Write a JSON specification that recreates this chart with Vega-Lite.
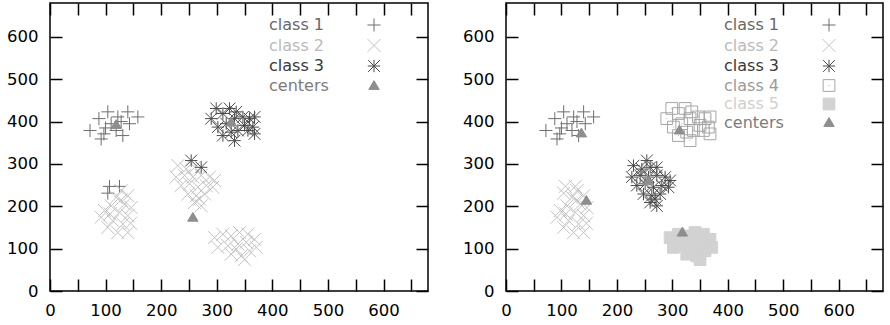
{
  "$schema": "https://vega.github.io/schema/vega-lite/v6.json",
  "padding": {"left": 5, "top": 1, "right": 5, "bottom": 5},
  "background": "white",
  "spacing": 31,
  "config": {
    "view": {"stroke": "black", "strokeWidth": 1.5},
    "axis": {
      "grid": false, "title": null, "domain": false, "offset": -12, "zindex": 1,
      "ticks": true, "tickColor": "black", "tickWidth": 1.5, "tickSize": 12,
      "labelFont": "DejaVu Sans", "labelFontSize": 16.5, "labelColor": "black",
      "labelFlush": false, "values": [0, 100, 200, 300, 400, 500, 600]
    },
    "legend": {
      "title": null, "orient": "none", "legendY": 14, "padding": 0,
      "rowPadding": 2.5, "labelFont": "DejaVu Sans", "labelFontSize": 16,
      "symbolSize": 170, "symbolStrokeWidth": 1,
      "symbolOffset": 100, "labelOffset": -113,
      "labelColor": {"expr": "datum.value === 'class 1' ? '#686868' : datum.value === 'class 2' ? '#bababa' : datum.value === 'class 3' ? '#383838' : datum.value === 'class 4' ? '#9a9a9a' : datum.value === 'class 5' ? '#d0d0d0' : '#7c7c7c'"}
    }
  },
  "datasets": {
    "pts": [
      {"x": 72, "y": 379, "k3": "class 1", "k5": "class 1"},
      {"x": 88, "y": 407, "k3": "class 1", "k5": "class 1"},
      {"x": 104, "y": 423, "k3": "class 1", "k5": "class 1"},
      {"x": 122, "y": 411, "k3": "class 1", "k5": "class 1"},
      {"x": 140, "y": 423, "k3": "class 1", "k5": "class 1"},
      {"x": 158, "y": 411, "k3": "class 1", "k5": "class 1"},
      {"x": 119, "y": 379, "k3": "class 1", "k5": "class 1"},
      {"x": 131, "y": 367, "k3": "class 1", "k5": "class 1"},
      {"x": 92, "y": 359, "k3": "class 1", "k5": "class 1"},
      {"x": 97, "y": 371, "k3": "class 1", "k5": "class 1"},
      {"x": 143, "y": 395, "k3": "class 1", "k5": "class 1"},
      {"x": 110, "y": 395, "k3": "class 1", "k5": "class 1"},
      {"x": 128, "y": 400, "k3": "class 1", "k5": "class 1"},
      {"x": 100, "y": 385, "k3": "class 1", "k5": "class 1"},
      {"x": 107, "y": 247, "k3": "class 1", "k5": "class 2"},
      {"x": 125, "y": 247, "k3": "class 1", "k5": "class 2"},
      {"x": 104, "y": 231, "k3": "class 1", "k5": "class 2"},
      {"x": 128, "y": 237, "k3": "class 2", "k5": "class 2"},
      {"x": 140, "y": 225, "k3": "class 2", "k5": "class 2"},
      {"x": 119, "y": 221, "k3": "class 2", "k5": "class 2"},
      {"x": 134, "y": 205, "k3": "class 2", "k5": "class 2"},
      {"x": 110, "y": 201, "k3": "class 2", "k5": "class 2"},
      {"x": 146, "y": 197, "k3": "class 2", "k5": "class 2"},
      {"x": 98, "y": 190, "k3": "class 2", "k5": "class 2"},
      {"x": 125, "y": 186, "k3": "class 2", "k5": "class 2"},
      {"x": 140, "y": 178, "k3": "class 2", "k5": "class 2"},
      {"x": 92, "y": 174, "k3": "class 2", "k5": "class 2"},
      {"x": 113, "y": 166, "k3": "class 2", "k5": "class 2"},
      {"x": 131, "y": 158, "k3": "class 2", "k5": "class 2"},
      {"x": 104, "y": 150, "k3": "class 2", "k5": "class 2"},
      {"x": 122, "y": 138, "k3": "class 2", "k5": "class 2"},
      {"x": 140, "y": 138, "k3": "class 2", "k5": "class 2"},
      {"x": 108, "y": 182, "k3": "class 2", "k5": "class 2"},
      {"x": 128, "y": 215, "k3": "class 2", "k5": "class 2"},
      {"x": 145, "y": 160, "k3": "class 2", "k5": "class 2"},
      {"x": 230, "y": 296, "k3": "class 2", "k5": "class 3"},
      {"x": 245, "y": 288, "k3": "class 2", "k5": "class 3"},
      {"x": 260, "y": 292, "k3": "class 2", "k5": "class 3"},
      {"x": 227, "y": 269, "k3": "class 2", "k5": "class 3"},
      {"x": 242, "y": 273, "k3": "class 2", "k5": "class 3"},
      {"x": 257, "y": 269, "k3": "class 2", "k5": "class 3"},
      {"x": 272, "y": 273, "k3": "class 2", "k5": "class 3"},
      {"x": 287, "y": 269, "k3": "class 2", "k5": "class 3"},
      {"x": 296, "y": 261, "k3": "class 2", "k5": "class 3"},
      {"x": 236, "y": 249, "k3": "class 2", "k5": "class 3"},
      {"x": 251, "y": 253, "k3": "class 2", "k5": "class 3"},
      {"x": 266, "y": 245, "k3": "class 2", "k5": "class 3"},
      {"x": 281, "y": 249, "k3": "class 2", "k5": "class 3"},
      {"x": 293, "y": 245, "k3": "class 2", "k5": "class 3"},
      {"x": 248, "y": 229, "k3": "class 2", "k5": "class 3"},
      {"x": 263, "y": 225, "k3": "class 2", "k5": "class 3"},
      {"x": 278, "y": 229, "k3": "class 2", "k5": "class 3"},
      {"x": 260, "y": 209, "k3": "class 2", "k5": "class 3"},
      {"x": 272, "y": 201, "k3": "class 2", "k5": "class 3"},
      {"x": 269, "y": 217, "k3": "class 2", "k5": "class 3"},
      {"x": 296, "y": 126, "k3": "class 2", "k5": "class 5"},
      {"x": 311, "y": 134, "k3": "class 2", "k5": "class 5"},
      {"x": 326, "y": 130, "k3": "class 2", "k5": "class 5"},
      {"x": 341, "y": 138, "k3": "class 2", "k5": "class 5"},
      {"x": 356, "y": 134, "k3": "class 2", "k5": "class 5"},
      {"x": 368, "y": 122, "k3": "class 2", "k5": "class 5"},
      {"x": 302, "y": 103, "k3": "class 2", "k5": "class 5"},
      {"x": 320, "y": 107, "k3": "class 2", "k5": "class 5"},
      {"x": 338, "y": 111, "k3": "class 2", "k5": "class 5"},
      {"x": 353, "y": 115, "k3": "class 2", "k5": "class 5"},
      {"x": 371, "y": 103, "k3": "class 2", "k5": "class 5"},
      {"x": 326, "y": 87, "k3": "class 2", "k5": "class 5"},
      {"x": 344, "y": 83, "k3": "class 2", "k5": "class 5"},
      {"x": 359, "y": 95, "k3": "class 2", "k5": "class 5"},
      {"x": 335, "y": 99, "k3": "class 2", "k5": "class 5"},
      {"x": 350, "y": 74, "k3": "class 2", "k5": "class 5"},
      {"x": 254, "y": 308, "k3": "class 3", "k5": "class 3"},
      {"x": 272, "y": 292, "k3": "class 3", "k5": "class 3"},
      {"x": 290, "y": 407, "k3": "class 3", "k5": "class 4"},
      {"x": 299, "y": 431, "k3": "class 3", "k5": "class 4"},
      {"x": 311, "y": 419, "k3": "class 3", "k5": "class 4"},
      {"x": 323, "y": 431, "k3": "class 3", "k5": "class 4"},
      {"x": 335, "y": 423, "k3": "class 3", "k5": "class 4"},
      {"x": 332, "y": 407, "k3": "class 3", "k5": "class 4"},
      {"x": 347, "y": 411, "k3": "class 3", "k5": "class 4"},
      {"x": 359, "y": 407, "k3": "class 3", "k5": "class 4"},
      {"x": 368, "y": 411, "k3": "class 3", "k5": "class 4"},
      {"x": 350, "y": 391, "k3": "class 3", "k5": "class 4"},
      {"x": 365, "y": 387, "k3": "class 3", "k5": "class 4"},
      {"x": 338, "y": 379, "k3": "class 3", "k5": "class 4"},
      {"x": 326, "y": 375, "k3": "class 3", "k5": "class 4"},
      {"x": 311, "y": 367, "k3": "class 3", "k5": "class 4"},
      {"x": 332, "y": 355, "k3": "class 3", "k5": "class 4"},
      {"x": 368, "y": 371, "k3": "class 3", "k5": "class 4"},
      {"x": 356, "y": 379, "k3": "class 3", "k5": "class 4"},
      {"x": 317, "y": 395, "k3": "class 3", "k5": "class 4"},
      {"x": 302, "y": 387, "k3": "class 3", "k5": "class 4"},
      {"x": 119, "y": 393, "k3": "centers"},
      {"x": 326, "y": 399, "k3": "centers"},
      {"x": 257, "y": 174, "k3": "centers"},
      {"x": 136, "y": 373, "k5": "centers"},
      {"x": 145, "y": 214, "k5": "centers"},
      {"x": 257, "y": 260, "k5": "centers"},
      {"x": 313, "y": 380, "k5": "centers"},
      {"x": 318, "y": 139, "k5": "centers"}
    ]
  },
  "resolve": {"scale": {"shape": "independent", "stroke": "independent", "fill": "independent"}},
  "hconcat": [
    {
      "width": 378, "height": 288,
      "data": {"name": "pts"},
      "transform": [{"filter": "datum.k3 != null"}],
      "layer": [
        {
          "mark": {"type": "point", "size": 170, "strokeWidth": 1, "opacity": 1},
          "encoding": {
            "x": {"field": "x", "type": "quantitative", "scale": {"domain": [0, 680], "nice": false, "zero": false}, "axis": {"orient": "bottom", "labelPadding": 11}},
            "y": {"field": "y", "type": "quantitative", "scale": {"domain": [0, 680], "nice": false, "zero": false}, "axis": {"orient": "left", "labelPadding": 12}},
            "shape": {"field": "k3", "type": "nominal", "scale": {"domain": ["class 1", "class 2", "class 3", "centers"], "range": ["M-1,0L1,0M0,-1L0,1", "M-1,-1L1,1M-1,1L1,-1", "M-0.95,0L0.95,0M0,-0.95L0,0.95M-0.9,-0.9L0.9,0.9M-0.9,0.9L0.9,-0.9", "M0,-0.75L0.8,0.6L-0.8,0.6Z"]}, "legend": {"legendX": 216}},
            "stroke": {"field": "k3", "type": "nominal", "scale": {"domain": ["class 1", "class 2", "class 3", "centers"], "range": ["#6e6e6e", "#c2c2c2", "#4c4c4c", "#8e8e8e"]}, "legend": {"legendX": 216}},
            "fill": {"field": "k3", "type": "nominal", "scale": {"domain": ["class 1", "class 2", "class 3", "centers"], "range": ["transparent", "transparent", "transparent", "#8e8e8e"]}, "legend": {"legendX": 216}}
          }
        },
        {
          "mark": {"type": "point", "opacity": 0},
          "encoding": {
            "x": {"field": "x", "type": "quantitative", "axis": {"orient": "top", "labels": false}},
            "y": {"field": "y", "type": "quantitative", "axis": {"orient": "right", "labels": false}}
          }
        }
      ],
      "resolve": {"axis": {"x": "independent", "y": "independent"}}
    },
    {
      "width": 377, "height": 288,
      "data": {"name": "pts"},
      "transform": [{"filter": "datum.k5 != null"}],
      "layer": [
        {
          "mark": {"type": "point", "size": 170, "strokeWidth": 1, "opacity": 1},
          "encoding": {
            "x": {"field": "x", "type": "quantitative", "scale": {"domain": [0, 680], "nice": false, "zero": false}, "axis": {"orient": "bottom", "labelPadding": 11}},
            "y": {"field": "y", "type": "quantitative", "scale": {"domain": [0, 680], "nice": false, "zero": false}, "axis": {"orient": "left", "labelPadding": 12}},
            "shape": {"field": "k5", "type": "nominal", "scale": {"domain": ["class 1", "class 2", "class 3", "class 4", "class 5", "centers"], "range": ["M-1,0L1,0M0,-1L0,1", "M-1,-1L1,1M-1,1L1,-1", "M-0.95,0L0.95,0M0,-0.95L0,0.95M-0.9,-0.9L0.9,0.9M-0.9,0.9L0.9,-0.9", "M-0.9,-0.9L0.9,-0.9L0.9,0.9L-0.9,0.9ZM-0.06,0L0.06,0", "M-0.9,-0.9L0.9,-0.9L0.9,0.9L-0.9,0.9Z", "M0,-0.75L0.8,0.6L-0.8,0.6Z"]}, "legend": {"legendX": 215}},
            "stroke": {"field": "k5", "type": "nominal", "scale": {"domain": ["class 1", "class 2", "class 3", "class 4", "class 5", "centers"], "range": ["#6e6e6e", "#c2c2c2", "#4c4c4c", "#a6a6a6", "#d2d2d2", "#8e8e8e"]}, "legend": {"legendX": 215}},
            "fill": {"field": "k5", "type": "nominal", "scale": {"domain": ["class 1", "class 2", "class 3", "class 4", "class 5", "centers"], "range": ["transparent", "transparent", "transparent", "transparent", "#d2d2d2", "#8e8e8e"]}, "legend": {"legendX": 215}}
          }
        },
        {
          "mark": {"type": "point", "opacity": 0},
          "encoding": {
            "x": {"field": "x", "type": "quantitative", "axis": {"orient": "top", "labels": false}},
            "y": {"field": "y", "type": "quantitative", "axis": {"orient": "right", "labels": false}}
          }
        }
      ],
      "resolve": {"axis": {"x": "independent", "y": "independent"}}
    }
  ]
}
